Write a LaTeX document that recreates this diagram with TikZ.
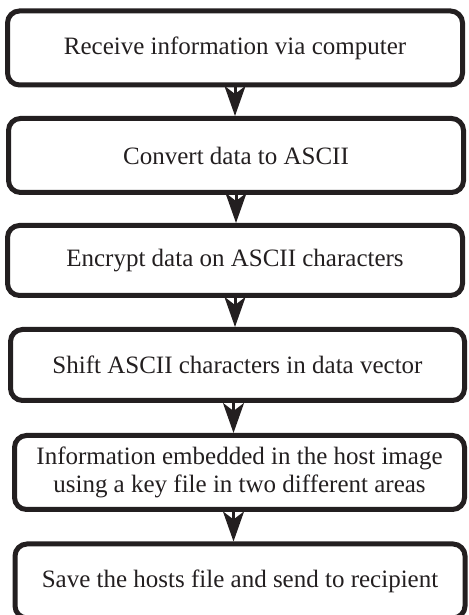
\documentclass[tikz,border=0pt]{standalone}
\usepackage{fontspec}
\setmainfont{Liberation Serif}
\usetikzlibrary{arrows.meta}
\definecolor{ink}{RGB}{35,31,32}

\begin{document}
\begin{tikzpicture}[x=0.5pt, y=0.5pt, >={Stealth[length=15pt, width=10.5pt, inset=4pt]}]
        \tikzstyle{stage}=[draw=ink, text=ink, line width=2.5pt, rounded corners=6pt, minimum width=227.5pt, minimum height=37pt, inner sep=0pt, align=center, font=\fontsize{12.5}{14}\selectfont]
        \tikzstyle{flow}=[->, draw=ink, fill=ink, line width=1.5pt]

        \useasboundingbox (0,0) rectangle (469,615);

        \node[stage](recv) at (235, 567){Receive information via computer};
        \node[stage](conv) at (236, 459.5){Convert data to ASCII};
        \node[stage, minimum height=35pt](encr) at (235, 354.5){Encrypt data on ASCII characters};
        \node[stage, minimum height=35.5pt, minimum width=227pt](shift) at (237.5, 250){Shift ASCII characters in data vector};
        \node[stage, minimum width=225pt](embed) at (239.5, 142.5){Information embedded in the host image\\using a key file in two different areas};
        \node[stage, minimum width=225pt](save) at (240, 34){Save the hosts file and send to recipient};

        \draw[flow] (recv.south) -- (recv.south |- conv.north);
        \draw[flow] (conv.south) -- (conv.south |- encr.north);
        \draw[flow] (encr.south) -- (encr.south |- shift.north);
        \draw[flow] ([xshift=-2pt]shift.south) -- ([xshift=-2pt]shift.south |- embed.north);
        \draw[flow] ([xshift=-3pt]embed.south) -- ([xshift=-3pt]embed.south |- save.north);

        \end{tikzpicture}
\end{document}
